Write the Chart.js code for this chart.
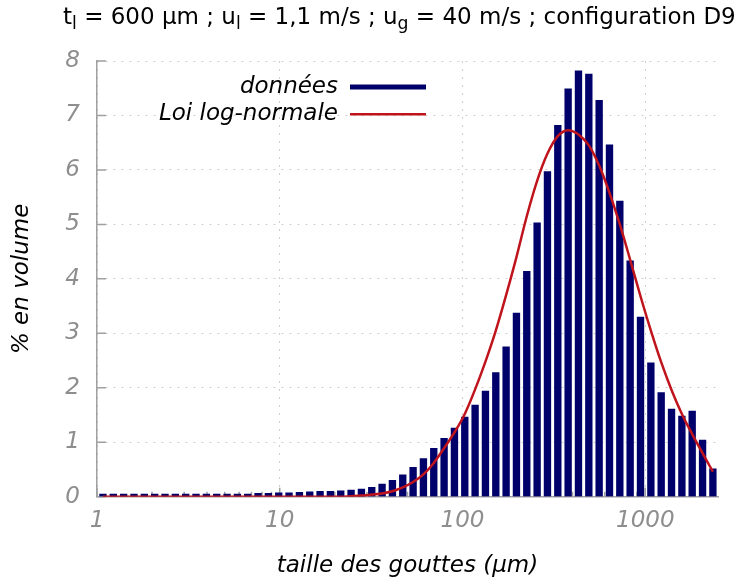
<!DOCTYPE html>
<html>
<head>
<meta charset="utf-8">
<script src="https://cdn.jsdelivr.net/npm/chart.js@4.4.1/dist/chart.umd.min.js"></script>
<style>
  html, body { margin: 0; padding: 0; background: #fff; overflow: hidden; }
  #wrap { position: relative; width: 755px; height: 581px; }
  #title {
    position: absolute; left: 63px; top: 3px;
    font-family: "DejaVu Sans"; font-size: 23px; color: #000; white-space: nowrap;
  }
  #title sub { font-size: 0.75em; vertical-align: -0.3em; line-height: 0; }
</style>
</head>
<body>
<div id="wrap">
  <canvas id="chart" width="755" height="581"></canvas>
  <div id="title">t<sub>l</sub> = 600 µm ; u<sub>l</sub> = 1,1 m/s ; u<sub>g</sub> = 40 m/s ; configuration D9</div>
</div>
<script>
// bin centres (µm)
const diameters = [
  1.078, 1.228, 1.399, 1.594, 1.816, 2.068, 2.356, 2.684, 3.057, 3.482,
  3.967, 4.519, 5.147, 5.864, 6.679, 7.608, 8.666, 9.870, 11.24, 12.81,
  14.59, 16.62, 18.93, 21.56, 24.56, 27.98, 31.87, 36.30, 41.35, 47.10,
  53.65, 61.11, 69.61, 79.29, 90.32, 102.9, 117.2, 133.5, 152.1, 173.2,
  197.3, 224.7, 256.0, 291.6, 332.2, 378.4, 431.0, 491.0, 559.3, 637.1,
  725.7, 826.6, 941.7, 1073, 1222, 1392, 1586, 1806, 2058, 2344
];

// measured distribution (% en volume)
const volumePct = [
  0.05, 0.05, 0.05, 0.05, 0.05, 0.05, 0.05, 0.05, 0.05, 0.05,
  0.05, 0.05, 0.05, 0.05, 0.05, 0.06, 0.06, 0.07, 0.07, 0.08,
  0.09, 0.10, 0.10, 0.11, 0.12, 0.14, 0.17, 0.23, 0.30, 0.40,
  0.54, 0.70, 0.89, 1.07, 1.26, 1.46, 1.68, 1.94, 2.28, 2.75,
  3.37, 4.14, 5.03, 5.97, 6.82, 7.49, 7.82, 7.76, 7.28, 6.46,
  5.43, 4.33, 3.30, 2.46, 1.91, 1.61, 1.48, 1.57, 1.04, 0.51
];

// fitted log-normal curve at the same diameters
const fitPct = [
  0, 0, 0, 0, 0, 0, 0, 0, 0, 0,
  0, 0, 0, 0, 0, 0, 0, 0, 0, 0,
  0, 0, 0, 0, 0.01, 0.02, 0.04, 0.06, 0.10, 0.17,
  0.27, 0.41, 0.62, 0.89, 1.18, 1.52, 1.97, 2.48, 3.05, 3.70,
  4.40, 5.15, 5.80, 6.30, 6.62, 6.73, 6.65, 6.45, 6.08, 5.58,
  5.00, 4.35, 3.68, 3.05, 2.47, 1.96, 1.52, 1.15, 0.80, 0.46
];

const xTickValues = [1, 10, 100, 1000];
const yTickValues = [0, 1, 2, 3, 4, 5, 6, 7, 8];

const FONT = '"DejaVu Sans"';
const GREY = '#8e8e8e';
const AXIS = '#a0a0a0';

// gnuplot style ticks pointing inwards
const tickMarks = {
  id: 'tickMarks',
  beforeDatasetsDraw(chart) {
    const { ctx, chartArea: a, scales: { x, y } } = chart;
    ctx.save();
    ctx.strokeStyle = AXIS;
    ctx.lineWidth = 1.5;
    ctx.beginPath();
    yTickValues.forEach(v => {
      const py = y.getPixelForValue(v);
      ctx.moveTo(a.left, py);
      ctx.lineTo(a.left + 9, py);
    });
    xTickValues.forEach(dec => {
      for (let m = 1; m <= 9; m++) {
        const v = dec * m;
        if (v > x.max) break;
        const px = x.getPixelForValue(v);
        ctx.moveTo(px, a.bottom);
        ctx.lineTo(px, a.bottom - (m === 1 ? 9 : 5));
      }
    });
    ctx.stroke();
    ctx.restore();
  }
};

// legend inside the plot, text on the left of the sample
const insideLegend = {
  id: 'insideLegend',
  afterDraw(chart) {
    const ctx = chart.ctx;
    ctx.save();
    ctx.font = 'italic 23px ' + FONT;
    ctx.textAlign = 'right';
    ctx.textBaseline = 'middle';
    ctx.fillStyle = '#000';
    chart.data.datasets.forEach((ds, i) => {
      const yy = 87 + i * 27.3;
      ctx.fillText(ds.label, 338, yy);
      ctx.strokeStyle = ds.type === 'bar' ? ds.backgroundColor : ds.borderColor;
      ctx.lineWidth = ds.type === 'bar' ? 5 : 2.5;
      ctx.beginPath();
      ctx.moveTo(350, yy);
      ctx.lineTo(426, yy);
      ctx.stroke();
    });
    ctx.restore();
  }
};

const ctx = document.getElementById('chart').getContext('2d');
new Chart(ctx, {
  type: 'bar',
  data: {
    datasets: [
      {
        type: 'bar',
        label: 'données',
        data: diameters.map((d, i) => ({ x: d, y: volumePct[i] })),
        backgroundColor: '#00006b',
        borderWidth: 0,
        barThickness: 6.7,
        order: 2
      },
      {
        type: 'line',
        label: 'Loi log-normale',
        data: diameters.map((d, i) => ({ x: d, y: fitPct[i] })),
        borderColor: '#c0141c',
        borderWidth: 2.5,
        pointRadius: 0,
        cubicInterpolationMode: 'monotone',
        fill: false,
        order: 1
      }
    ]
  },
  options: {
    responsive: false,
    animation: false,
    layout: { padding: { top: 61, right: 37, left: 0, bottom: 0 } },
    plugins: {
      legend: { display: false },
      tooltip: { enabled: false }
    },
    scales: {
      x: {
        type: 'logarithmic',
        min: 1,
        max: 2500,
        offset: false,
        afterBuildTicks: s => { s.ticks = xTickValues.map(v => ({ value: v })); },
        afterFit: s => { s.height = 84.3; },
        ticks: {
          autoSkip: false,
          maxRotation: 0,
          color: GREY,
          padding: 11,
          font: { family: FONT, style: 'italic', size: 23 },
          callback: v => String(v)
        },
        grid: { color: '#cfcfcf', drawTicks: false, offset: false },
        border: { display: true, color: AXIS, width: 1.5, dash: [2, 6] },
        title: {
          display: true,
          text: 'taille des gouttes (µm)',
          color: '#000',
          font: { family: FONT, style: 'italic', size: 23 },
          padding: { top: 0, bottom: 1 }
        }
      },
      y: {
        min: 0,
        max: 8,
        afterFit: s => { s.width = 97; },
        ticks: {
          stepSize: 1,
          color: GREY,
          padding: 17,
          font: { family: FONT, style: 'italic', size: 23 }
        },
        grid: { color: '#cfcfcf', drawTicks: false },
        border: { display: true, color: AXIS, width: 1.5, dash: [2, 6] },
        title: {
          display: true,
          text: '% en volume',
          color: '#000',
          font: { family: FONT, style: 'italic', size: 23 },
          padding: { top: 8, bottom: 0 }
        }
      }
    }
  },
  plugins: [tickMarks, insideLegend]
});
</script>
</body>
</html>
